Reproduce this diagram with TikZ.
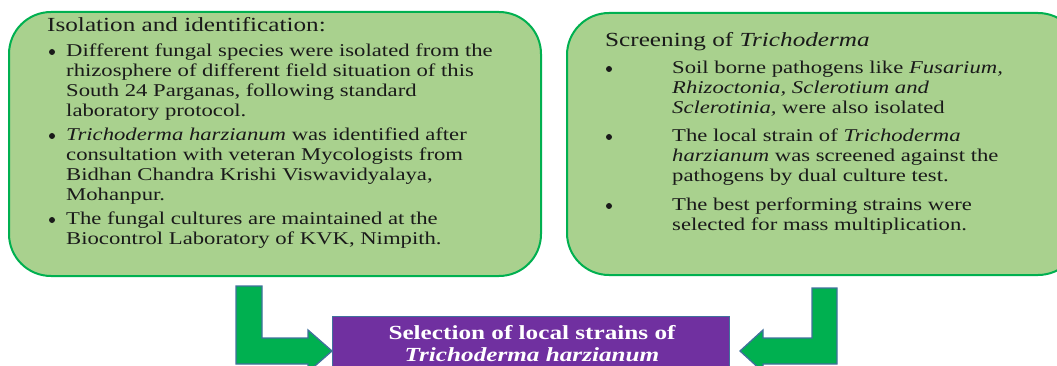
\documentclass[tikz,border=0pt]{standalone}
\usepackage{fontspec}
\setmainfont[FakeStretch=1.26]{Liberation Serif}
\definecolor{boxfill}{HTML}{A9D18E}
\definecolor{boxline}{HTML}{00B050}
\definecolor{arrfill}{HTML}{00B050}
\definecolor{arrline}{HTML}{41719C}
\definecolor{purp}{HTML}{7030A0}
\definecolor{txt}{HTML}{1A1A1A}
\tikzset{
  greenbox/.style={draw=boxline, fill=boxfill, line width=2pt, rounded corners=42pt, inner sep=0pt},
  body/.style={font=\fontsize{18}{20}\selectfont, text=txt, align=left, inner sep=0pt, anchor=north west},
  head/.style={font=\fontsize{20}{22}\selectfont, text=txt, inner sep=0pt, anchor=west},
  bul/.style={circle, fill=txt, inner sep=0pt, minimum size=6pt},
  blockarrow/.style={fill=arrfill, draw=arrline, line width=1.3pt, line join=miter},
}
\begin{document}
\begin{tikzpicture}[x=1pt,y=-1pt]
\useasboundingbox (0,0) rectangle (1057,366);
% boxes
\node[greenbox, minimum width=532pt, minimum height=264pt] (left) at (275,144) {};
\node[greenbox, minimum width=513pt, minimum height=262pt] (right) at (823.5,144) {};
% left box text
\node[head] (lh) at (47,25) {Isolation and identification:};
\node[bul] (lb1) at (52,52) {};
\node[body] (lt1) at (66,44) {Different fungal species were isolated from the\\rhizosphere of different field situation of this\\South 24 Parganas, following standard\\laboratory protocol.};
\node[bul] (lb2) at (52,136) {};
\node[body] (lt2) at (66,128) {\textit{Trichoderma harzianum} was identified after\\consultation with veteran Mycologists from\\Bidhan Chandra Krishi Viswavidyalaya,\\Mohanpur.};
\node[bul] (lb3) at (52,220) {};
\node[body] (lt3) at (66,212) {The fungal cultures are maintained at the\\Biocontrol Laboratory of KVK, Nimpith.};
% right box text
\node[head] (rh) at (605,42) {Screening of \textit{Trichoderma}};
\node[bul] (rb1) at (609,69) {};
\node[body] (rt1) at (672,61) {Soil borne pathogens like \textit{Fusarium,}\\\textit{Rhizoctonia, Sclerotium and}\\\textit{Sclerotinia,} were also isolated};
\node[bul] (rb2) at (609,137) {};
\node[body] (rt2) at (672,129) {The local strain of \textit{Trichoderma}\\\textit{harzianum} was screened against the\\pathogens by dual culture test.};
\node[bul] (rb3) at (609,206) {};
\node[body] (rt3) at (672,198) {The best performing strains were\\selected for mass multiplication.};
% bottom box
\node[fill=purp, draw=arrline, line width=1pt, minimum width=397pt, minimum height=70pt, anchor=north west, inner sep=0pt] (sel) at (332,316) {};
\node[font=\bfseries\fontsize{20}{22}\selectfont, text=white, align=center, inner sep=0pt] (selt) at (532,344) {Selection of local strains of\\\textit{Trichoderma harzianum}};
% block arrows
\coordinate (rtip) at (740,351);
\draw[blockarrow] (236,286) -- (262,286) -- (262,338) -- (308,338) -- (308,330) -- (sel.west |- 0,351) -- (308,372) -- (308,364) -- (236,364) -- cycle;
\draw[blockarrow] (812,288) -- (837,288) -- (837,364) -- (763,364) -- (763,372) -- (rtip) -- (763,330) -- (763,338) -- (812,338) -- cycle;
\end{tikzpicture}
\end{document}
